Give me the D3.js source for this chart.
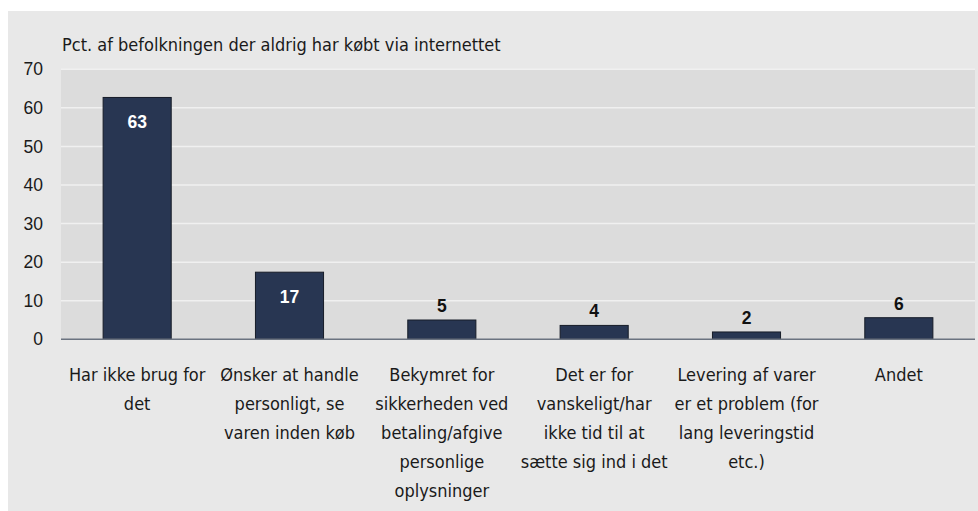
<!DOCTYPE html>
<html>
<head>
<meta charset="utf-8">
<script src="https://cdn.jsdelivr.net/npm/d3@7"></script>
<style>
  body { margin: 0; background: #fff; }
  svg { display: block; }
  .txt { font-family: "DejaVu Sans Condensed", "DejaVu Sans", sans-serif; font-stretch: condensed; fill: #1a1a1a; }
  .num { font-family: "Liberation Sans", Arial, sans-serif; fill: #1a1a1a; }
</style>
</head>
<body>
<div id="chart"></div>
<script>
"use strict";

// data
var categories = ["Har ikke brug for det", "Ønsker at handle personligt, se varen inden køb",
        "Bekymret for sikkerheden ved betaling/afgive personlige oplysninger",
        "Det er for vanskeligt/har ikke tid til at sætte sig ind i det",
        "Levering af varer er et problem (for lang leveringstid etc.)", "Andet"];
var categoryLines = [
        ["Har ikke brug for", "det"],
        ["Ønsker at handle", "personligt, se", "varen inden køb"],
        ["Bekymret for", "sikkerheden ved", "betaling/afgive", "personlige", "oplysninger"],
        ["Det er for", "vanskeligt/har", "ikke tid til at", "sætte sig ind i det"],
        ["Levering af varer", "er et problem (for", "lang leveringstid", "etc.)"],
        ["Andet"]
];
var values = [62.7, 17.4, 5.0, 3.6, 1.9, 5.6];
var yTicks = [0, 10, 20, 30, 40, 50, 60, 70];
var title = "Pct. af befolkningen der aldrig har købt via internettet";

var W = 978, H = 511;
var margin = { top: 69.3, right: 3, bottom: 171.7, left: 61 };
var width = W - margin.left - margin.right,
        height = H - margin.top - margin.bottom;

var svg = d3.select("#chart")
        .append("svg")
        .attr("width", W)
        .attr("height", H);

// grey panel
svg.append("rect")
        .attr("x", 8).attr("y", 11)
        .attr("width", W - 8).attr("height", H - 11)
        .attr("fill", "#e8e8e8");

var g = svg.append("g")
        .attr("transform", "translate(" + margin.left + "," + margin.top + ")");

// plot area
g.append("rect")
        .attr("width", width).attr("height", height)
        .attr("fill", "#dcdcdc");

var x = d3.scaleBand()
        .domain(categories)
        .range([0, width])
        .paddingInner(0.553)
        .paddingOuter(0.2765);

var y = d3.scaleLinear()
        .domain([0, 70])
        .range([height, 0]);

// gridlines
g.selectAll("line.grid")
        .data(yTicks.filter(function (d) { return d > 0; }))
        .enter()
        .append("line")
        .attr("class", "grid")
        .attr("x1", 0).attr("x2", width)
        .attr("y1", function (d) { return y(d); })
        .attr("y2", function (d) { return y(d); })
        .attr("stroke", "#f0f0f0")
        .attr("stroke-width", 1.5);

// y axis
var yAxis = g.append("g")
        .call(d3.axisLeft(y).tickValues(yTicks).tickSize(0).tickPadding(18));
yAxis.select(".domain").remove();
yAxis.selectAll("text")
        .attr("class", "num")
        .attr("font-size", 17.5)
        .attr("fill", "#1a1a1a");

// title
g.append("text")
        .attr("class", "txt")
        .attr("x", 1)
        .attr("y", -18)
        .attr("font-size", 18)
        .text(title);

// bars
g.selectAll("rect.bar")
        .data(values)
        .enter()
        .append("rect")
        .attr("class", "bar")
        .attr("x", function (d, i) { return x(categories[i]); })
        .attr("y", function (d) { return y(d); })
        .attr("width", x.bandwidth())
        .attr("height", function (d) { return height - y(d); })
        .attr("fill", "#283652")
        .attr("stroke", "#161c28")
        .attr("stroke-width", 1);

// value labels
g.selectAll("text.val")
        .data(values)
        .enter()
        .append("text")
        .attr("class", "num")
        .attr("text-anchor", "middle")
        .attr("font-size", 17.5)
        .attr("font-weight", "bold")
        .attr("x", function (d, i) { return x(categories[i]) + x.bandwidth() / 2; })
        .attr("y", function (d) { return d > 10 ? y(d) + 31 : y(d) - 8; })
        .style("fill", function (d) { return d > 10 ? "#ffffff" : "#111111"; })
        .text(function (d) { return Math.round(d); });

// zero line
g.append("line")
        .attr("x1", 0).attr("x2", width)
        .attr("y1", y(0)).attr("y2", y(0))
        .attr("stroke", "#6b7380")
        .attr("stroke-width", 1.5);

// category labels
var cat = g.selectAll("text.cat")
        .data(categoryLines)
        .enter()
        .append("text")
        .attr("class", "txt")
        .attr("text-anchor", "middle")
        .attr("font-size", 18)
        .attr("transform", function (d, i) {
                return "translate(" + (x(categories[i]) + x.bandwidth() / 2) + "," + (height + 42) + ")";
        });
cat.selectAll("tspan")
        .data(function (d) { return d; })
        .enter()
        .append("tspan")
        .attr("x", 0)
        .attr("dy", function (d, i) { return i == 0 ? 0 : 29; })
        .text(function (d) { return d; });
</script>
</body>
</html>
